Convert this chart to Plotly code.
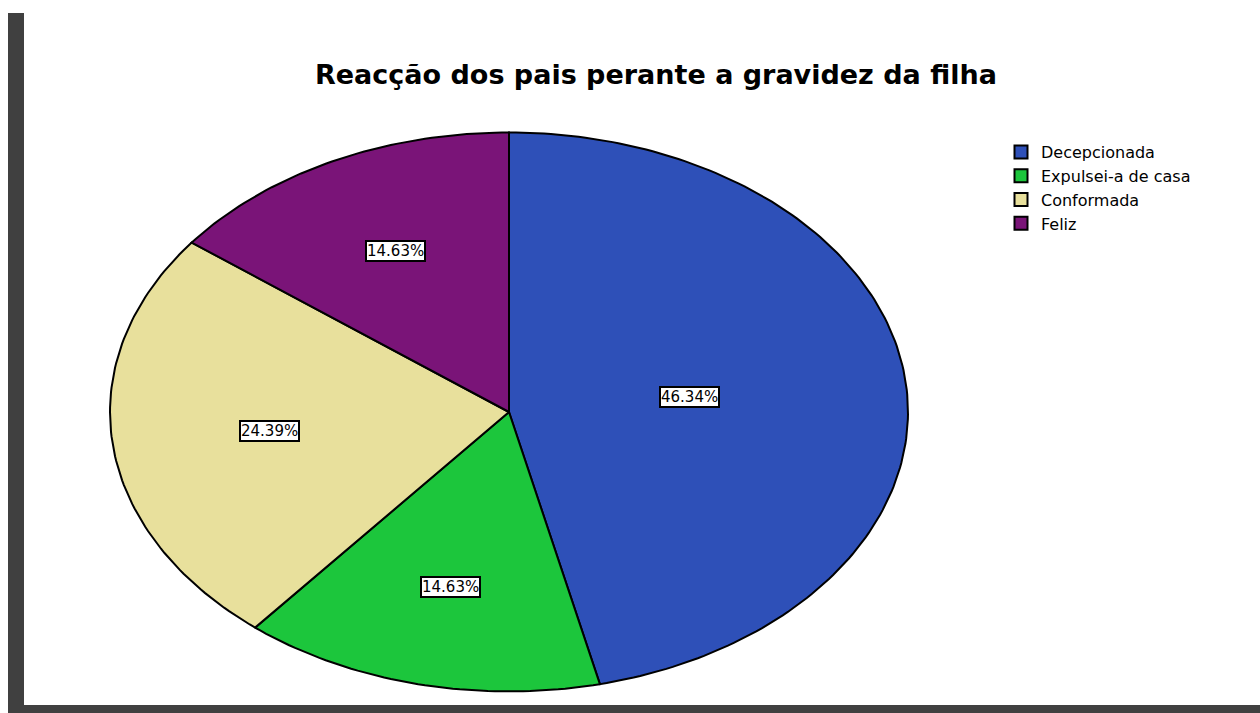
import numpy as np
import plotly.graph_objects as go

categories = ["Decepcionada", "Expulsei-a de casa", "Conformada", "Feliz"]
counts = [19, 6, 10, 6]
colors = ["#2E50B8", "#1CC63C", "#E8E09C", "#7A1478"]
title = "Reacção dos pais perante a gravidez da filha"

W, H = 1260, 713
cx, cy, rx, ry = 509, 412, 399, 279.5
pad = 1.02
FONT = "DejaVu Sans, Liberation Sans, Arial"

total = sum(counts)
fracs = [c / total for c in counts]

fig = go.Figure()
annotations = []
start = np.pi / 2
for cat, f, col in zip(categories, fracs, colors):
    sweep = 2 * np.pi * f
    end = start - sweep
    t = np.linspace(start, end, max(int(360 * f), 8) + 1)
    xs = np.concatenate([[0], np.cos(t), [0]])
    ys = np.concatenate([[0], np.sin(t), [0]])
    fig.add_trace(go.Scatter(x=xs, y=ys, mode="lines", fill="toself", fillcolor=col,
                             line=dict(color="black", width=2), showlegend=False,
                             hoverinfo="skip"))
    a = sweep / 2
    rc = 2 * np.sin(a) / (3 * a)
    mid = start - a
    annotations.append(dict(x=rc * np.cos(mid), y=rc * np.sin(mid), xref="x", yref="y",
                            text=f"{100 * f:.2f}%", showarrow=False,
                            font=dict(family=FONT, size=15, color="black"),
                            bgcolor="white", bordercolor="black", borderwidth=2, borderpad=0))
    start = end

for cat, col in zip(categories, colors):
    fig.add_trace(go.Scatter(x=[None], y=[None], mode="markers", name=cat,
                             marker=dict(symbol="square", size=13, color=col,
                                         line=dict(color="black", width=2))))

annotations.append(dict(text=f"<b>{title}</b>", x=656 / W, y=1 - 74 / H, xref="paper", yref="paper",
                        xanchor="center", yanchor="middle", showarrow=False,
                        font=dict(family=FONT, size=27, color="black")))

shapes = [
    dict(type="rect", xref="paper", yref="paper", x0=8 / W, x1=24 / W, y0=0, y1=1 - 13 / H,
         fillcolor="#404040", line=dict(width=0), layer="above"),
    dict(type="rect", xref="paper", yref="paper", x0=8 / W, x1=1, y0=0, y1=8 / H,
         fillcolor="#404040", line=dict(width=0), layer="above"),
]

fig.update_layout(
    width=W, height=H, margin=dict(l=0, r=0, t=0, b=0),
    paper_bgcolor="white", plot_bgcolor="white",
    xaxis=dict(range=[-pad, pad], domain=[(cx - rx * pad) / W, (cx + rx * pad) / W],
               visible=False, fixedrange=True),
    yaxis=dict(range=[-pad, pad], domain=[1 - (cy + ry * pad) / H, 1 - (cy - ry * pad) / H],
               visible=False, fixedrange=True),
    legend=dict(x=1001 / W, y=1 - 135 / H, xanchor="left", yanchor="top",
                font=dict(family=FONT, size=16, color="black"),
                bgcolor="rgba(0,0,0,0)", itemwidth=30, tracegroupgap=0),
    annotations=annotations, shapes=shapes, showlegend=True,
)

fig.write_html("out.html", config={"displayModeBar": False},
               post_script="document.body.style.margin='0';document.body.style.overflow='hidden';")
